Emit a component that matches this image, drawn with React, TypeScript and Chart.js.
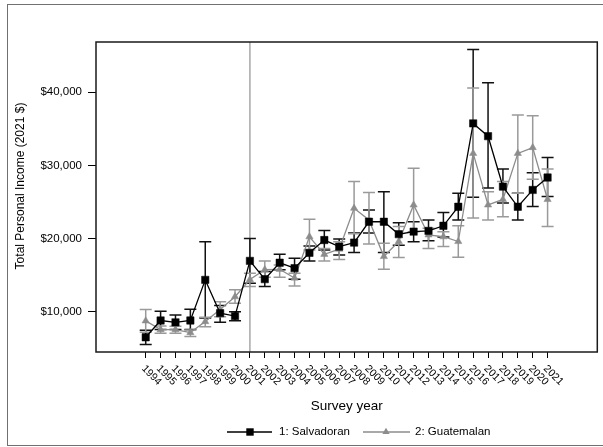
import React, { useEffect, useRef } from 'react';
import { Chart, registerables } from 'chart.js';

Chart.register(...registerables);

// Survey years on the x axis
const years = [
  1994, 1995, 1996, 1997, 1998, 1999, 2000, 2001, 2002, 2003, 2004, 2005, 2006, 2007,
  2008, 2009, 2010, 2011, 2012, 2013, 2014, 2015, 2016, 2017, 2018, 2019, 2020, 2021,
];

// 1: Salvadoran — mean income and 95% interval
const salvadoranMean = [
  6500, 8800, 8550, 8800, 14350, 9800, 9400, 16950, 14450, 16700, 15950, 18050, 19800, 18900,
  19450, 22300, 22300, 20600, 20950, 21050, 21750, 24350, 35750, 34000, 27100, 24350, 26650, 28350,
];
const salvadoranLow = [
  5500, 7550, 7550, 7550, 9150, 8550, 8750, 13900, 13450, 15750, 14450, 16950, 18450, 17750,
  18100, 20750, 18100, 19100, 19550, 19700, 20200, 22550, 25650, 26900, 24850, 22550, 24400, 25750,
];
const salvadoranHigh = [
  7450, 10050, 9550, 10350, 19550, 10850, 10000, 20000, 15500, 17850, 17300, 19000, 21100, 19950,
  20750, 23900, 26400, 22150, 22300, 22550, 23550, 26200, 45850, 41300, 29500, 26200, 29000, 31100,
];

// 2: Guatemalan — mean income and 95% interval
const guatemalanMean = [
  8750, 7550, 7550, 7150, 8650, 10300, 12050, 14400, 15750, 15800, 14600, 20250, 17850, 18550,
  24150, 22550, 17550, 19600, 24600, 20500, 20250, 19600, 31650, 24600, 25350, 31650, 32450, 25350,
];
const guatemalanLow = [
  7200, 7050, 7050, 6600, 7950, 9300, 11150, 13450, 14700, 14700, 13500, 18450, 16950, 17150,
  20650, 19250, 15800, 17400, 20950, 18650, 18900, 17450, 22800, 22550, 23000, 26200, 28100, 21650,
];
const guatemalanHigh = [
  10300, 8050, 8000, 7500, 9250, 11350, 13000, 15250, 16950, 16400, 15250, 22650, 18650, 19550,
  27800, 26300, 19350, 21650, 29600, 21400, 20950, 21750, 40600, 26400, 27800, 36900, 36800, 29500,
];

const yTickValues = [10000, 20000, 30000, 40000];
const referenceYear = 2001;

const seriesLabels = ['1: Salvadoran', '2: Guatemalan'];
const xTitle = 'Survey year';
const yTitle = 'Total Personal Income (2021 $)';

const FONT = '"Liberation Sans", Arial, Helvetica, sans-serif';
const SALV_COLOR = '#000000';
const GUAT_COLOR = '#8c8c8c';
const GUAT_BAR_COLOR = '#9a9a9a';

function drawTriangle(ctx: CanvasRenderingContext2D, cx: number, cy: number, r: number) {
  const h = r * 1.5;
  const w = r * Math.sqrt(3);
  ctx.beginPath();
  ctx.moveTo(cx, cy - r);
  ctx.lineTo(cx + w / 2, cy - r + h);
  ctx.lineTo(cx - w / 2, cy - r + h);
  ctx.closePath();
  ctx.fill();
}

// Reference line at 2001 plus confidence-interval caps, underneath the series lines
const errorBarPlugin = {
  id: 'errorBars',
  beforeDatasetsDraw(chart: any) {
    const { ctx, chartArea, scales } = chart;
    const xs = scales.x;
    const ys = scales.y;
    ctx.save();

    const rx = xs.getPixelForValue(referenceYear);
    ctx.strokeStyle = '#a8a8a8';
    ctx.lineWidth = 1.5;
    ctx.beginPath();
    ctx.moveTo(rx, chartArea.top);
    ctx.lineTo(rx, chartArea.bottom);
    ctx.stroke();

    const cap = 6;
    const drawBars = (lows: number[], highs: number[], color: string) => {
      ctx.strokeStyle = color;
      ctx.lineWidth = 1.5;
      years.forEach((yr, i) => {
        const px = xs.getPixelForValue(yr);
        const top = ys.getPixelForValue(highs[i]);
        const bot = ys.getPixelForValue(lows[i]);
        ctx.beginPath();
        ctx.moveTo(px, top);
        ctx.lineTo(px, bot);
        ctx.moveTo(px - cap, top);
        ctx.lineTo(px + cap, top);
        ctx.moveTo(px - cap, bot);
        ctx.lineTo(px + cap, bot);
        ctx.stroke();
      });
    };
    drawBars(salvadoranLow, salvadoranHigh, '#111111');
    drawBars(guatemalanLow, guatemalanHigh, GUAT_BAR_COLOR);
    ctx.restore();
  },
};

// Frames, rotated year labels, axis titles and legend
const decorPlugin = {
  id: 'decor',
  afterDraw(chart: any) {
    const { ctx, chartArea: a, scales } = chart;
    const xs = scales.x;
    ctx.save();

    ctx.strokeStyle = '#707070';
    ctx.lineWidth = 1;
    ctx.strokeRect(7.5, 4.5, 600, 441);

    ctx.strokeStyle = '#1a1a1a';
    ctx.lineWidth = 1.5;
    ctx.strokeRect(a.left, a.top, a.right - a.left, a.bottom - a.top);

    // year labels, slanted downward to the right
    ctx.fillStyle = '#000';
    ctx.font = `10.5px ${FONT}`;
    ctx.textAlign = 'left';
    ctx.textBaseline = 'middle';
    xs.ticks.forEach((t: any) => {
      const px = xs.getPixelForValue(t.value);
      ctx.save();
      ctx.translate(px - 2.5, a.bottom + 15);
      ctx.rotate(Math.PI / 4);
      ctx.fillText(String(t.value), 0, 0);
      ctx.restore();
    });

    // x title
    ctx.font = `13.5px ${FONT}`;
    ctx.textAlign = 'center';
    ctx.fillText(xTitle, (a.left + a.right) / 2, 406);

    // y title
    ctx.save();
    ctx.translate(21, 186);
    ctx.rotate(-Math.PI / 2);
    ctx.font = `12px ${FONT}`;
    ctx.textAlign = 'center';
    ctx.fillText(yTitle, 0, 0);
    ctx.restore();

    // legend
    const ly = 432;
    ctx.font = `11.5px ${FONT}`;
    ctx.textAlign = 'left';

    ctx.strokeStyle = SALV_COLOR;
    ctx.lineWidth = 1.3;
    ctx.beginPath();
    ctx.moveTo(227, ly);
    ctx.lineTo(272, ly);
    ctx.stroke();
    ctx.fillStyle = SALV_COLOR;
    ctx.fillRect(250 - 3.7, ly - 3.7, 7.4, 7.4);
    ctx.fillText(seriesLabels[0], 279, ly);

    ctx.strokeStyle = GUAT_COLOR;
    ctx.beginPath();
    ctx.moveTo(363, ly);
    ctx.lineTo(410, ly);
    ctx.stroke();
    ctx.fillStyle = GUAT_COLOR;
    drawTriangle(ctx, 386, ly, 4.2);
    ctx.fillStyle = '#000';
    ctx.fillText(seriesLabels[1], 415, ly);

    ctx.restore();
  },
};

export default function App() {
  const canvasRef = useRef<HTMLCanvasElement | null>(null);

  useEffect(() => {
    document.body.style.margin = '0';
    const canvas = canvasRef.current;
    if (!canvas) return;

    const chart = new Chart(canvas, {
      type: 'line',
      data: {
        datasets: [
          {
            label: seriesLabels[0],
            data: years.map((yr, i) => ({ x: yr, y: salvadoranMean[i] })),
            borderColor: SALV_COLOR,
            backgroundColor: SALV_COLOR,
            borderWidth: 1.3,
            pointStyle: 'rect',
            pointRadius: 5.2,
            pointBorderWidth: 0.5,
            pointBorderColor: SALV_COLOR,
            pointBackgroundColor: SALV_COLOR,
            tension: 0,
          },
          {
            label: seriesLabels[1],
            data: years.map((yr, i) => ({ x: yr, y: guatemalanMean[i] })),
            borderColor: GUAT_COLOR,
            backgroundColor: GUAT_COLOR,
            borderWidth: 1.3,
            pointStyle: 'triangle',
            pointRadius: 4.2,
            pointBorderWidth: 0.5,
            pointBorderColor: GUAT_COLOR,
            pointBackgroundColor: GUAT_COLOR,
            tension: 0,
          },
        ],
      },
      options: {
        responsive: false,
        devicePixelRatio: 1,
        animation: false,
        events: [],
        layout: { padding: { left: 0, top: 42, right: 3, bottom: 0 } },
        plugins: {
          legend: { display: false },
          tooltip: { enabled: false },
          title: { display: false },
        },
        scales: {
          x: {
            type: 'linear',
            min: 1990.66,
            max: 2024.34,
            afterBuildTicks: (s: any) => {
              s.ticks = years.map((v) => ({ value: v }));
            },
            afterFit: (s: any) => {
              s.height = 95;
            },
            ticks: { display: false },
            grid: { drawOnChartArea: false, drawTicks: true, tickLength: 6, color: '#000', lineWidth: 1 },
            border: { display: false },
          },
          y: {
            type: 'linear',
            min: 4490,
            max: 46880,
            afterBuildTicks: (s: any) => {
              s.ticks = yTickValues.map((v) => ({ value: v }));
            },
            afterFit: (s: any) => {
              s.width = 96;
            },
            ticks: {
              callback: (v: any) => '$' + Number(v).toLocaleString('en-US'),
              font: { family: FONT, size: 11.5 },
              color: '#000',
              padding: 6,
            },
            grid: { drawOnChartArea: false, drawTicks: true, tickLength: 8, color: '#000', lineWidth: 1 },
            border: { display: false },
          },
        },
      },
      plugins: [errorBarPlugin, decorPlugin],
    } as any);

    return () => chart.destroy();
  }, []);

  return (
    <div style={{ width: 603, height: 447 }}>
      <canvas ref={canvasRef} width={603} height={447} style={{ display: 'block' }} />
    </div>
  );
}
